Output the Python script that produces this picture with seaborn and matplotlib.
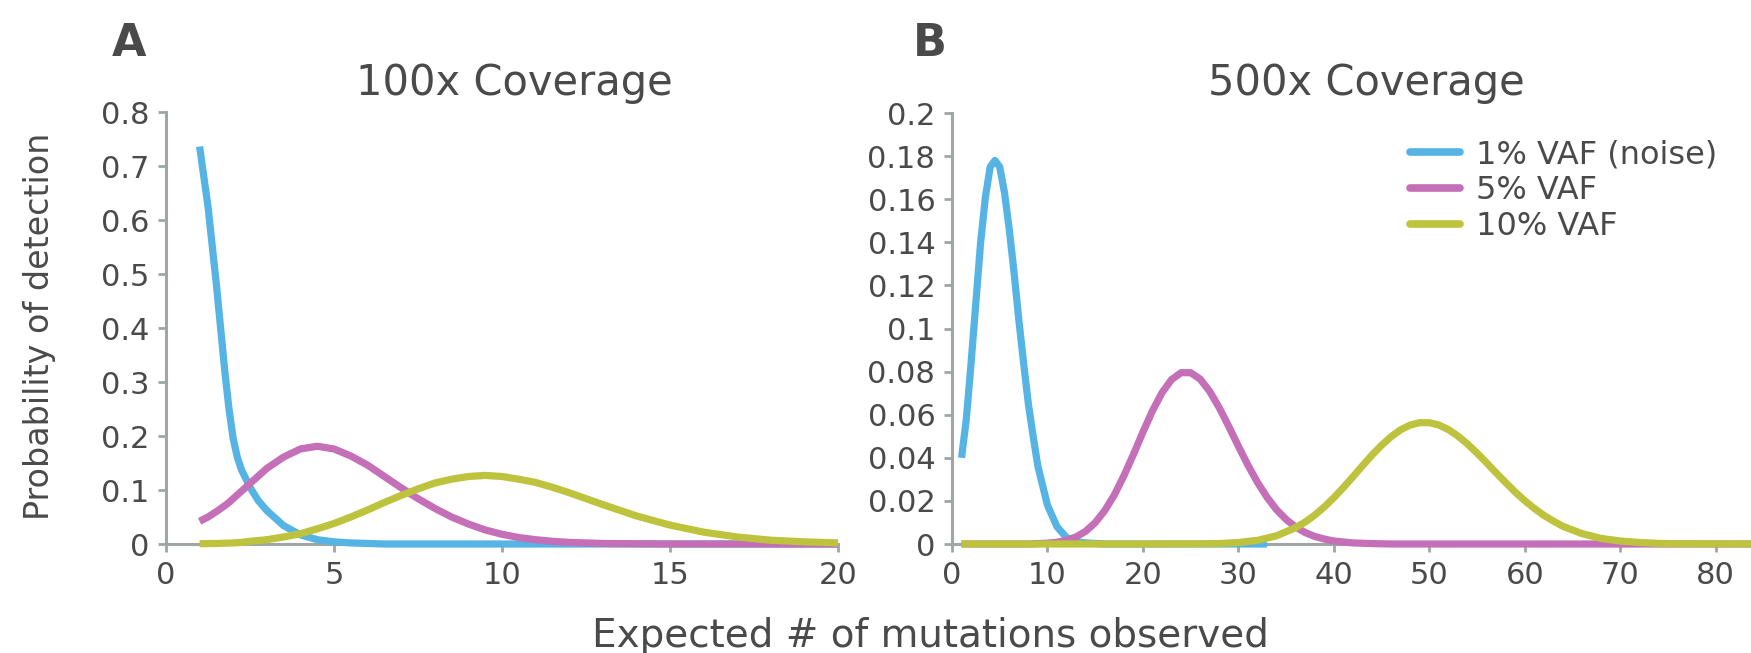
import pandas as pd
import matplotlib
matplotlib.use("Agg")
import matplotlib.pyplot as plt
import seaborn as sns
from matplotlib.ticker import FuncFormatter

# ---- data ----
labels = ["1% VAF (noise)", "5% VAF", "10% VAF"]
colors = ["#55b4e4", "#c46fb8", "#bec33e"]

# panel A: 100x coverage
x_100 = [1, 1.25, 1.5, 1.75, 1.875, 2, 2.125, 2.25, 2.5, 2.75, 3, 3.5, 4, 4.5, 5, 5.5,
         6, 6.5, 7, 7.5, 8, 8.5, 9, 9.5, 10, 10.5, 11, 11.5, 12, 13, 14, 15, 16, 17,
         18, 19, 20]
blue_100 = [0.736, 0.625, 0.48, 0.32, 0.25, 0.195, 0.16, 0.137, 0.105, 0.08, 0.062,
            0.034, 0.017, 0.008, 0.004, 0.002, 0.001, 0, 0, 0, 0, 0, 0, 0, 0, 0, 0, 0,
            0, 0, 0, 0, 0, 0, 0, 0, 0]
pink_100 = [0.042, 0.05, 0.06, 0.071, 0.077, 0.084, 0.091, 0.098, 0.112, 0.126, 0.14,
            0.161, 0.176, 0.181, 0.176, 0.163, 0.146, 0.125, 0.104, 0.084, 0.066, 0.05,
            0.037, 0.026, 0.018, 0.012, 0.008, 0.005, 0.003, 0.001, 0.0005, 0, 0, 0,
            0, 0, 0]
yellow_100 = [0.0005, 0.0008, 0.001, 0.0015, 0.0017, 0.002, 0.0025, 0.003, 0.005, 0.0065,
              0.008, 0.013, 0.019, 0.028, 0.038, 0.05, 0.063, 0.077, 0.09, 0.102, 0.113,
              0.12, 0.125, 0.127, 0.125, 0.12, 0.114, 0.105, 0.095, 0.073, 0.052, 0.035,
              0.022, 0.013, 0.007, 0.004, 0.002]

# panel B: 500x coverage
blue_500_x = [1, 1.5, 2, 2.5, 3, 3.5, 4, 4.5, 5, 5.5, 6, 6.5, 7, 7.5, 8, 8.5, 9, 10,
              11, 12, 13, 14, 16, 20, 25, 33]
blue_500 = [0.04, 0.058, 0.084, 0.112, 0.14, 0.161, 0.175, 0.178, 0.175, 0.163, 0.146,
            0.126, 0.104, 0.084, 0.065, 0.05, 0.036, 0.018, 0.008, 0.003, 0.001, 0.0005,
            0, 0, 0, 0]
pink_500_x = [1, 8, 10, 11, 12, 13, 14, 15, 16, 17, 18, 19, 20, 21, 22, 23, 24, 25, 26,
              27, 28, 29, 30, 31, 32, 33, 34, 35, 36, 37, 38, 39, 40, 42, 44, 46, 50,
              60, 70, 84]
pink_500 = [0, 0, 0.0004, 0.0008, 0.0017, 0.0033, 0.0059, 0.0099, 0.0155, 0.0227,
            0.0316, 0.0415, 0.0519, 0.0618, 0.0702, 0.0763, 0.0795, 0.0795, 0.0765,
            0.0708, 0.0632, 0.0545, 0.0454, 0.0366, 0.0286, 0.0217, 0.0159, 0.0114,
            0.0079, 0.0053, 0.0035, 0.0023, 0.0014, 0.0005, 0.0002, 0, 0, 0, 0, 0]
yellow_500_x = [1, 20, 26, 28, 30, 32, 34, 36, 37, 38, 39, 40, 41, 42, 43, 44, 45, 46,
                47, 48, 49, 50, 51, 52, 53, 54, 55, 56, 57, 58, 59, 60, 61, 62, 63, 64,
                66, 68, 70, 72, 74, 76, 78, 84]
yellow_500 = [0, 0, 0.0001, 0.0002, 0.0007, 0.0017, 0.0038, 0.0076, 0.0102, 0.0134,
              0.0172, 0.0215, 0.0262, 0.0312, 0.0363, 0.0413, 0.0458, 0.0498, 0.053,
              0.0552, 0.0563, 0.0563, 0.0552, 0.0531, 0.0501, 0.0464, 0.0422, 0.0377,
              0.033, 0.0285, 0.0241, 0.0201, 0.0165, 0.0133, 0.0106, 0.0082, 0.0048,
              0.0026, 0.0014, 0.0007, 0.0003, 0.0001, 0.0001, 0]

df_a = pd.concat([
    pd.DataFrame({"x": x_100, "p": blue_100, "series": labels[0]}),
    pd.DataFrame({"x": x_100, "p": pink_100, "series": labels[1]}),
    pd.DataFrame({"x": x_100, "p": yellow_100, "series": labels[2]}),
])
df_b = pd.concat([
    pd.DataFrame({"x": blue_500_x, "p": blue_500, "series": labels[0]}),
    pd.DataFrame({"x": pink_500_x, "p": pink_500, "series": labels[1]}),
    pd.DataFrame({"x": yellow_500_x, "p": yellow_500, "series": labels[2]}),
])

sns.set_style("ticks")
plt.rcParams["font.family"] = ["DejaVu Sans"]
text_c = "#4a4a4a"
spine_c = "#9ea6a6"

fig = plt.figure(figsize=(17.51, 6.53), dpi=100)
W, H = 1751, 653
ax1 = fig.add_axes([166 / W, 1 - 544 / H, (838 - 166) / W, (544 - 112) / H])
ax2 = fig.add_axes([952 / W, 1 - 544 / H, (W - 952) / W, (544 - 113) / H])

pal = dict(zip(labels, colors))
for ax, df in [(ax1, df_a), (ax2, df_b)]:
    sns.lineplot(data=df, x="x", y="p", hue="series", hue_order=labels, palette=pal,
                 linewidth=5.2, ax=ax, legend=False, sort=True, estimator=None)
    for i, ln in enumerate(ax.lines):
        ln.set_clip_on(False)
        ln.set_zorder(3 + i)
        ln.set_solid_capstyle("butt")
        ln.set_solid_joinstyle("round")
    sns.despine(ax=ax)
    for s in ["left", "bottom"]:
        ax.spines[s].set_color(spine_c)
        ax.spines[s].set_linewidth(2.2)
    ax.tick_params(axis="both", direction="out", length=6, width=2, color=spine_c,
                   labelsize=22, labelcolor=text_c, pad=6)
    ax.set_xlabel("")
    ax.set_ylabel("")
    ax.yaxis.set_major_formatter(FuncFormatter(lambda v, p: f"{v:g}"))

ax1.set_xlim(0, 20)
ax1.set_ylim(0, 0.8)
ax1.set_xticks([0, 5, 10, 15, 20])
ax1.set_yticks([0, 0.1, 0.2, 0.3, 0.4, 0.5, 0.6, 0.7, 0.8])

ax2.set_xlim(0, 83.7)
ax2.set_ylim(0, 0.2)
ax2.set_xticks([0, 10, 20, 30, 40, 50, 60, 70, 80])
ax2.set_yticks([0, 0.02, 0.04, 0.06, 0.08, 0.1, 0.12, 0.14, 0.16, 0.18, 0.2])

# titles and panel letters
fig.text(514 / W, 1 - 95 / H, "100x Coverage", ha="center", va="baseline",
         fontsize=30, color=text_c)
fig.text(1366 / W, 1 - 95 / H, "500x Coverage", ha="center", va="baseline",
         fontsize=30, color=text_c)
fig.text(129 / W, 1 - 56 / H, "A", ha="center", va="baseline", fontsize=32,
         fontweight="bold", color=text_c)
fig.text(930 / W, 1 - 56 / H, "B", ha="center", va="baseline", fontsize=32,
         fontweight="bold", color=text_c)
fig.text(930 / W, 1 - 647 / H, "Expected # of mutations observed", ha="center",
         va="baseline", fontsize=28, color=text_c)
fig.text(40 / W, 1 - 326 / H, "Probability of detection", ha="center", va="center",
         rotation=90, fontsize=24, color=text_c)

handles = [plt.Line2D([], [], color=c, linewidth=5.5) for c in colors]
leg = fig.legend(handles, labels, loc="upper left", bbox_to_anchor=(1410 / W, 1 - 139 / H),
                 frameon=False, fontsize=23, handlelength=1.55, handletextpad=0.53,
                 labelspacing=0.16, borderpad=0, borderaxespad=0)
for t in leg.get_texts():
    t.set_color(text_c)

fig.savefig("out.png", dpi=100)
